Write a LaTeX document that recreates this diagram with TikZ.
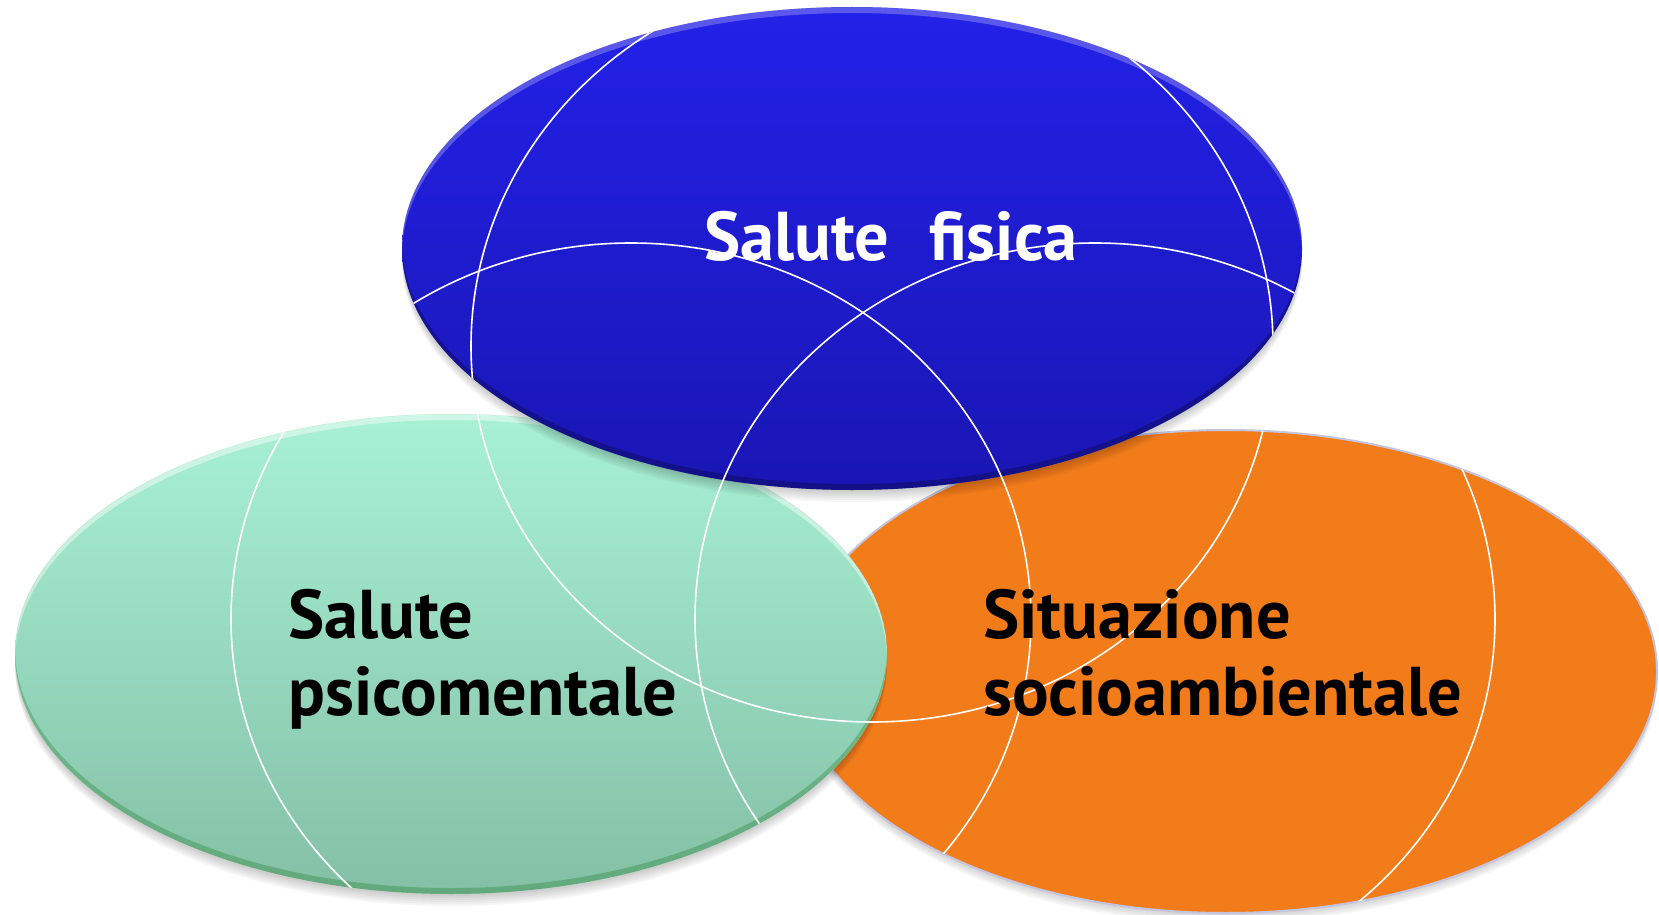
\documentclass[tikz,border=0pt]{standalone}
\usepackage{fontspec}
\setmainfont{PT Sans}[FakeStretch=0.99, WordSpace=2.3]
\usetikzlibrary{shapes.geometric}
\definecolor{bluetop}{RGB}{35,33,232}
\definecolor{bluebot}{RGB}{26,22,180}
\definecolor{greentop}{RGB}{168,241,213}
\definecolor{greenbot}{RGB}{132,192,166}
\definecolor{orangefill}{RGB}{243,124,26}
\definecolor{lavrim}{RGB}{196,196,222}
\tikzset{
  blob/.style={ellipse, inner sep=0pt, outer sep=0pt},
  arcline/.style={draw=white, line width=0.8pt},
  labtext/.style={inner sep=0pt, anchor=base west, font=\bfseries\fontsize{34.5}{40}\selectfont},
  shadowfill/.style={fill=black, opacity=0.035},
}
\begin{document}
\begin{tikzpicture}[x=0.5pt,y=-0.5pt]
\useasboundingbox (0,0) rectangle (1659,915);
% ---------- orange ----------
\foreach \k in {2,4,...,10}
  \fill[shadowfill] (1226,{671.5+\k}) ellipse [x radius=215.5pt, y radius=120.75pt];
\node[blob, fill=orangefill, draw=lavrim, line width=1pt,
      minimum width=431pt, minimum height=241.5pt] (orange) at (1226,671.5) {};
% ---------- green ----------
\foreach \k in {2,4,...,12}
  \fill[shadowfill] (451,{654+\k}) ellipse [x radius=218pt, y radius=120pt];
\node[blob, top color=greentop, bottom color=greenbot,
      minimum width=436pt, minimum height=240pt] (green) at (451,654) {};
\begin{scope}
  \clip (451,654) ellipse [x radius=218pt, y radius=120pt];
  \fill[white, opacity=0.45, even odd rule] (451,654) ellipse [x radius=218pt, y radius=120pt]
     (451,660) ellipse [x radius=218pt, y radius=120pt];
  \fill[black!60!green, opacity=0.25, even odd rule] (451,654) ellipse [x radius=218pt, y radius=120pt]
     (451,648) ellipse [x radius=218pt, y radius=120pt];
\end{scope}
% ---------- blue ----------
\foreach \k in {2,4,...,12}
  \fill[shadowfill] (852,{248.5+\k}) ellipse [x radius=225pt, y radius=120.75pt];
\node[blob, top color=bluetop, bottom color=bluebot,
      minimum width=450pt, minimum height=241.5pt] (blue) at (852,248.5) {};
\begin{scope}
  \clip (852,248.5) ellipse [x radius=225pt, y radius=120.75pt];
  \fill[white, opacity=0.25, even odd rule] (852,248.5) ellipse [x radius=225pt, y radius=120.75pt]
     (852,254.5) ellipse [x radius=225pt, y radius=120.75pt];
  \fill[black, opacity=0.25, even odd rule] (852,248.5) ellipse [x radius=225pt, y radius=120.75pt]
     (852,242.5) ellipse [x radius=225pt, y radius=120.75pt];
\end{scope}
% ---------- white arcs clipped to the union ----------
\begin{scope}
  \clip (852,248.5) ellipse [x radius=225pt, y radius=120.75pt]
        (451,654) ellipse [x radius=218pt, y radius=120pt]
        (1226,671.5) ellipse [x radius=215.5pt, y radius=120.75pt];
  \draw[arcline] (631,619) ellipse [x radius=200pt, y radius=188pt];
  \draw[arcline] (872,346) ellipse [x radius=200.5pt, y radius=188pt];
  \draw[arcline] (1095,619) ellipse [x radius=200pt, y radius=188pt];
\end{scope}
% ---------- texts ----------
\node[labtext, text=white] (tfis) at (704,260) {Salute fisica};
\node[labtext, text=black] (tpsi1) at (288,638) {Salute};
\node[labtext, text=black] (tpsi2) at (288,715) {psicomentale};
\node[labtext, text=black] (tsoc1) at (983,638) {Situazione};
\node[labtext, text=black] (tsoc2) at (983,715) {socioambientale};
\end{tikzpicture}
\end{document}
